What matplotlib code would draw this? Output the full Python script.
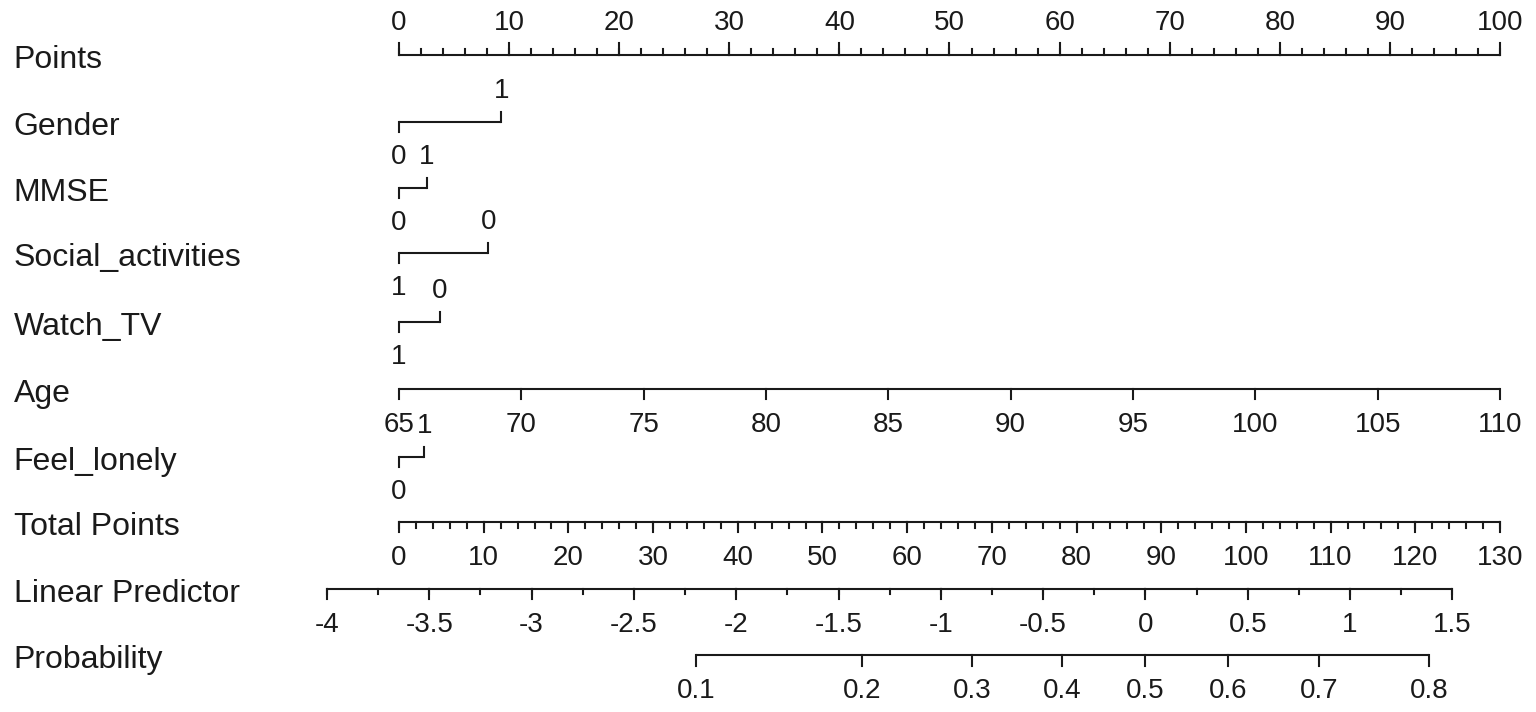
import numpy as np
import matplotlib.pyplot as plt

plt.rcParams['font.family'] = ['Liberation Sans', 'DejaVu Sans']

# nomogram scales
points_ticks = np.arange(0, 101, 10)
points_minor = np.arange(0, 101, 2)

gender_levels = ['0', '1']
gender_points = [0, 9.3]
mmse_levels = ['0', '1']
mmse_points = [0, 2.5]
social_levels = ['1', '0']
social_points = [0, 8.1]
watch_tv_levels = ['1', '0']
watch_tv_points = [0, 3.7]
age_ticks = np.arange(65, 111, 5)
age_min, age_max = 65, 110
lonely_levels = ['0', '1']
lonely_points = [0, 2.3]

total_ticks = np.arange(0, 131, 10)
total_minor = np.arange(0, 131, 2)
total_max = 130

lp_ticks = np.arange(-4, 1.51, 0.5)
lp_minor = np.arange(-4, 1.51, 0.25)
lp_at_zero = -3.648
lp_per_point = 0.04139

prob_ticks = [0.1, 0.2, 0.3, 0.4, 0.5, 0.6, 0.7, 0.8]

row_names = ['Points', 'Gender', 'MMSE', 'Social_activities', 'Watch_TV',
             'Age', 'Feel_lonely', 'Total Points', 'Linear Predictor', 'Probability']
row_y = [55, 122, 188, 253, 322, 389, 457, 522, 589, 655]

COL = '#1a1a1a'
FS_ROW = 23
FS = 20
LW = 1.5


def total_to_x(tp):
    return np.asarray(tp) * 100.0 / total_max


def lp_to_x(lp):
    return total_to_x((np.asarray(lp) - lp_at_zero) / lp_per_point)


def fmt(v):
    return '%g' % v


def draw_scale(ax, y, xs, labels, minor_xs=None, up=False, major_len=10, minor_len=5):
    xs = np.asarray(xs)
    ax.plot([xs.min(), xs.max()], [y, y], color=COL, lw=LW, solid_capstyle='butt')
    sgn = -1 if up else 1
    if minor_xs is not None:
        for mx in minor_xs:
            ax.plot([mx, mx], [y, y + sgn * minor_len], color=COL, lw=LW)
    for x, lab in zip(xs, labels):
        ax.plot([x, x], [y, y + sgn * major_len], color=COL, lw=LW)
        ax.text(x, y + sgn * 34 + 2, lab, ha='center', va='center', fontsize=FS, color=COL)


def draw_cat(ax, y, pts, labels):
    ax.plot([pts[0], pts[-1]], [y, y], color=COL, lw=LW, solid_capstyle='butt')
    for i, (p, lab) in enumerate(zip(pts, labels)):
        sgn = 1 if i % 2 == 0 else -1
        ax.plot([p, p], [y, y + sgn * 10], color=COL, lw=LW)
        ax.text(p, y + sgn * 33 + 2, lab, ha='center', va='center', fontsize=FS, color=COL)


fig = plt.figure(figsize=(15.36, 7.12), dpi=100)
ax = fig.add_axes([0, 0, 1, 1])
ax.set_xlim(-36.24, 103.27)
ax.set_ylim(712, 0)
ax.axis('off')

for name, y in zip(row_names, row_y):
    ax.text(-35.0, y + 5, name, ha='left', va='center', fontsize=FS_ROW, color=COL)

# Points
draw_scale(ax, row_y[0], points_ticks, [fmt(v) for v in points_ticks],
           minor_xs=points_minor, up=True, major_len=12, minor_len=6)

draw_cat(ax, row_y[1], gender_points, gender_levels)
draw_cat(ax, row_y[2], mmse_points, mmse_levels)
draw_cat(ax, row_y[3], social_points, social_levels)
draw_cat(ax, row_y[4], watch_tv_points, watch_tv_levels)

# Age
age_x = (age_ticks - age_min) / (age_max - age_min) * 100
draw_scale(ax, row_y[5], age_x, [fmt(v) for v in age_ticks])

draw_cat(ax, row_y[6], lonely_points, lonely_levels)

# Total points
draw_scale(ax, row_y[7], total_to_x(total_ticks), [fmt(v) for v in total_ticks],
           minor_xs=total_to_x(total_minor), major_len=10, minor_len=6)

# Linear predictor
draw_scale(ax, row_y[8], lp_to_x(lp_ticks), [fmt(round(v, 2)) for v in lp_ticks],
           minor_xs=lp_to_x(lp_minor), major_len=10, minor_len=5)

# Probability
prob = np.array(prob_ticks)
draw_scale(ax, row_y[9], lp_to_x(np.log(prob / (1 - prob))), [fmt(v) for v in prob_ticks],
           major_len=11)

fig.savefig('out.png', dpi=100, facecolor='white')
